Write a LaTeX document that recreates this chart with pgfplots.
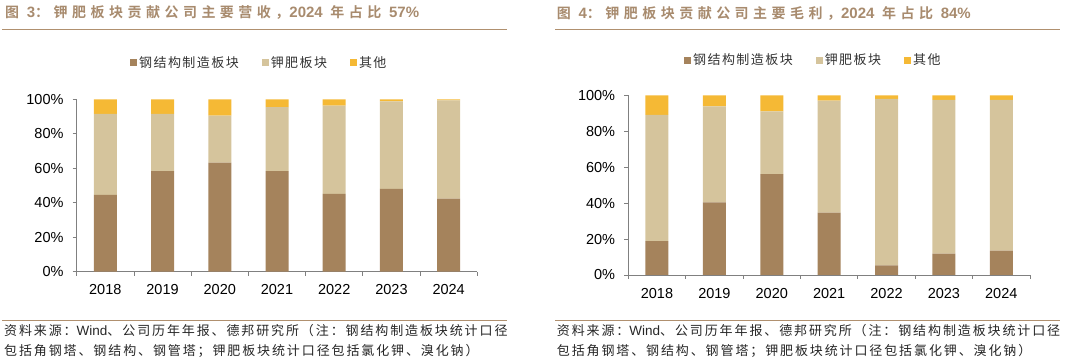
\documentclass[border=0pt]{standalone}
\usepackage{pgfplots}
\pgfplotsset{compat=1.18}
\usepackage{fontspec}
\setmainfont{Liberation Sans}
\newfontfamily\cjkt[LetterSpace=32]{Noto Sans CJK SC Bold}
\newfontfamily\cjk[LetterSpace=11]{Noto Sans CJK SC}
\newfontfamily\cjkf[LetterSpace=14.5]{Noto Sans CJK SC}
\newcommand\lt[1]{{\fontspec{Liberation Sans Bold}\fontsize{15}{16}\selectfont #1}}
\newcommand\lf[1]{{\fontspec{Liberation Sans}\fontsize{13.5}{20}\selectfont #1}}
\definecolor{cBrown}{HTML}{A5835C}
\definecolor{cTan}{HTML}{D5C49C}
\definecolor{cOrange}{HTML}{F5B935}
\definecolor{cTitle}{HTML}{A88B6E}
\definecolor{cLine}{HTML}{B0906F}
\definecolor{cAxis}{HTML}{808080}

\pgfplotstableread{
x brown tan other
0 44.5 47.0 8.5
1 58.4 33.1 8.5
2 63.2 27.3 9.5
3 58.4 37.1 4.5
4 45.1 51.2 3.7
5 48.0 50.8 1.2
6 42.4 57.0 0.6
}\revenue
\pgfplotstableread{
x brown tan other
0 18.9 70.2 10.9
1 40.4 53.5 6.1
2 56.2 34.9 8.9
3 34.7 62.3 3.0
4 5.4 92.6 2.0
5 11.9 85.5 2.6
6 13.5 83.9 2.6
}\profit

\pgfplotsset{
  mychart/.style={
    ybar stacked,
    scale only axis,
    bar width=23pt,
    xmin=-0.5, xmax=6.5,
    ymin=0, ymax=100,
    axis x line*=bottom,
    axis y line*=left,
    axis line style={cAxis, line width=0.8pt},
    xtick={-0.5,0.5,...,6.5},
    xticklabels={},
    extra x ticks={0,1,2,3,4,5,6},
    extra x tick labels={2018,2019,2020,2021,2022,2023,2024},
    extra x tick style={major tick length=0pt, tick style={draw=none}},
    ytick={0,20,...,100},
    yticklabel={\pgfmathprintnumber{\tick}\%},
    tick style={cAxis, line width=0.8pt},
    major tick length=4pt,
    tick align=outside,
    tick pos=left,
    ticklabel style={font=\fontsize{14.5}{16}\selectfont, text=black, inner sep=0pt},
    xticklabel style={anchor=base, yshift=-23.3pt},
    yticklabel style={anchor=east, xshift=-9pt},
    /pgf/number format/assume math mode=true,
    legend columns=3,
    legend style={draw=none, fill=none, inner sep=0pt, font=\cjk\fontsize{13}{15}\selectfont, text=black!80,
      /tikz/every even column/.append style={column sep=21pt}},
    legend cell align=left,
    legend image code/.code={\fill[##1] (0pt,-3.5pt) rectangle (7pt,3.5pt);},
  }
}

\begin{document}
\begin{tikzpicture}[x=1pt,y=1pt]
\useasboundingbox (0,0) rectangle (1080,361);

% Titles
\node[anchor=west, inner sep=0pt, text=cTitle, font=\cjkt\fontsize{14}{16}\selectfont] at (5,348.3) {图 \lt{3}：钾肥板块贡献公司主要营收，\lt{2024} 年占比 \lt{57\%}};
\node[anchor=west, inner sep=0pt, text=cTitle, font=\cjkt\fontsize{14}{16}\selectfont] at (556.7,347.7) {图 \lt{4}：钾肥板块贡献公司主要毛利，\lt{2024} 年占比 \lt{84\%}};
\draw[cLine, line width=1.2pt] (2,331.7) -- (507,331.7);
\draw[cLine, line width=1.2pt] (555,331.7) -- (1060,331.7);

% Footers
\draw[cLine, line width=1.2pt] (2,40.3) -- (507,40.3);
\draw[cLine, line width=1.2pt] (555,40.3) -- (1060,40.3);
\node[anchor=north west, inner sep=0pt, align=left, text=black!85, font=\cjkf\fontsize{13}{20}\selectfont] at (4,36.5) {资料来源：\lf{Wind}、公司历年年报、德邦研究所（注：钢结构制造板块统计口径\\包括角钢塔、钢结构、钢管塔；钾肥板块统计口径包括氯化钾、溴化钠）};
\node[anchor=north west, inner sep=0pt, align=left, text=black!85, font=\cjkf\fontsize{13}{20}\selectfont] at (556.7,36.5) {资料来源：\lf{Wind}、公司历年年报、德邦研究所（注：钢结构制造板块统计口径\\包括角钢塔、钢结构、钢管塔；钾肥板块统计口径包括氯化钾、溴化钠）};

% Left chart
\begin{axis}[mychart, at={(76.7pt,89.3pt)}, anchor=south west, width=400.6pt, height=172.4pt,
  legend style={at={(0.133,1.212)}, anchor=west}]
\addplot[fill=cBrown, draw=none] table[x=x, y=brown] {\revenue};
\addplot[fill=cTan, draw=none] table[x=x, y=tan] {\revenue};
\addplot[fill=cOrange, draw=none] table[x=x, y=other] {\revenue};
\legend{钢结构制造板块, 钾肥板块, 其他}
\end{axis}

% Right chart
\begin{axis}[mychart, at={(628.3pt,86pt)}, anchor=south west, width=401.7pt, height=179.7pt,
  legend style={at={(0.1387,1.196)}, anchor=west}]
\addplot[fill=cBrown, draw=none] table[x=x, y=brown] {\profit};
\addplot[fill=cTan, draw=none] table[x=x, y=tan] {\profit};
\addplot[fill=cOrange, draw=none] table[x=x, y=other] {\profit};
\legend{钢结构制造板块, 钾肥板块, 其他}
\end{axis}
\end{tikzpicture}
\end{document}
